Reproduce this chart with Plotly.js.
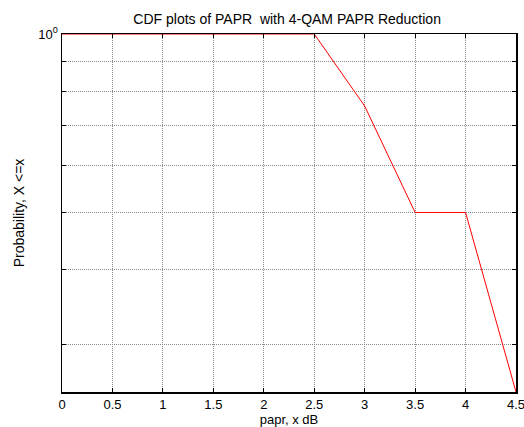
<!DOCTYPE html>
<html><head><meta charset="utf-8">
<script src="https://cdn.plot.ly/plotly-3.0.1.min.js"></script>
<style>html,body{margin:0;padding:0;background:#fff}#c{width:524px;height:427px}</style>
</head><body><div id="c"></div>
<script>
const paprX = [0, 0.5, 1, 1.5, 2, 2.5, 3, 3.5, 4, 4.5];
const probY = [1, 1, 1, 1, 1, 1, 0.756, 0.5, 0.5, 0.249];
const xTicks = [0, 0.5, 1, 1.5, 2, 2.5, 3, 3.5, 4, 4.5];
const xTickText = ['0', '0.5', '1', '1.5', '2', '2.5', '3', '3.5', '4', '4.5'];
const yMajorTicks = [1];
const yMajorText = ['10<sup>0</sup>'];
const yMinorTicks = [0.3, 0.4, 0.5, 0.6, 0.7, 0.8, 0.9];

const fam = 'Liberation Sans, Arial, sans-serif';
const font = {family: fam, size: 13, color: '#000'};
const gridStyle = {gridcolor: '#8a8a8a', griddash: '1px,1px', gridwidth: 1};
Plotly.newPlot('c', [{
  x: paprX, y: probY, type: 'scatter', mode: 'lines',
  line: {color: '#ff0000', width: 1}, cliponaxis: false
}], {
  width: 524, height: 427,
  margin: {l: 62, r: 8, t: 34, b: 35, pad: 0},
  paper_bgcolor: '#fff', plot_bgcolor: '#fff',
  showlegend: false,
  font: font,
  title: {text: 'CDF plots of PAPR  with 4-QAM PAPR Reduction', font: {family: fam, size: 14, color: '#000'}, x: 0.548, xanchor: 'center', y: 0.955, yanchor: 'middle'},
  xaxis: Object.assign({
    range: [0, 4.5], tickvals: xTicks, ticktext: xTickText,
    ticks: 'inside', ticklen: 4, tickcolor: '#000', tickwidth: 1,
    showline: true, linecolor: '#000', linewidth: 1.5, mirror: 'ticks',
    showgrid: true, ticklabeloverflow: 'allow',
    zeroline: false, tickfont: font,
    title: {text: 'papr, x dB', font: font, standoff: 3}
  }, gridStyle),
  yaxis: Object.assign({
    type: 'log', range: [Math.log10(0.249), 0],
    tickvals: yMajorTicks, ticktext: yMajorText,
    ticks: 'inside', ticklen: 4, tickcolor: '#000', tickwidth: 1,
    showline: true, linecolor: '#000', linewidth: 1.5, mirror: 'ticks',
    showgrid: true, ticklabeloverflow: 'allow',
    zeroline: false, tickfont: font,
    minor: Object.assign({tickvals: yMinorTicks, ticks: 'inside', ticklen: 4, tickcolor: '#000', showgrid: true}, gridStyle),
    title: {text: 'Probability, X <=x', font: {family: fam, size: 14, color: '#000'}, standoff: 10}
  }, gridStyle)
}, {displayModeBar: false, staticPlot: true});
</script></body></html>
